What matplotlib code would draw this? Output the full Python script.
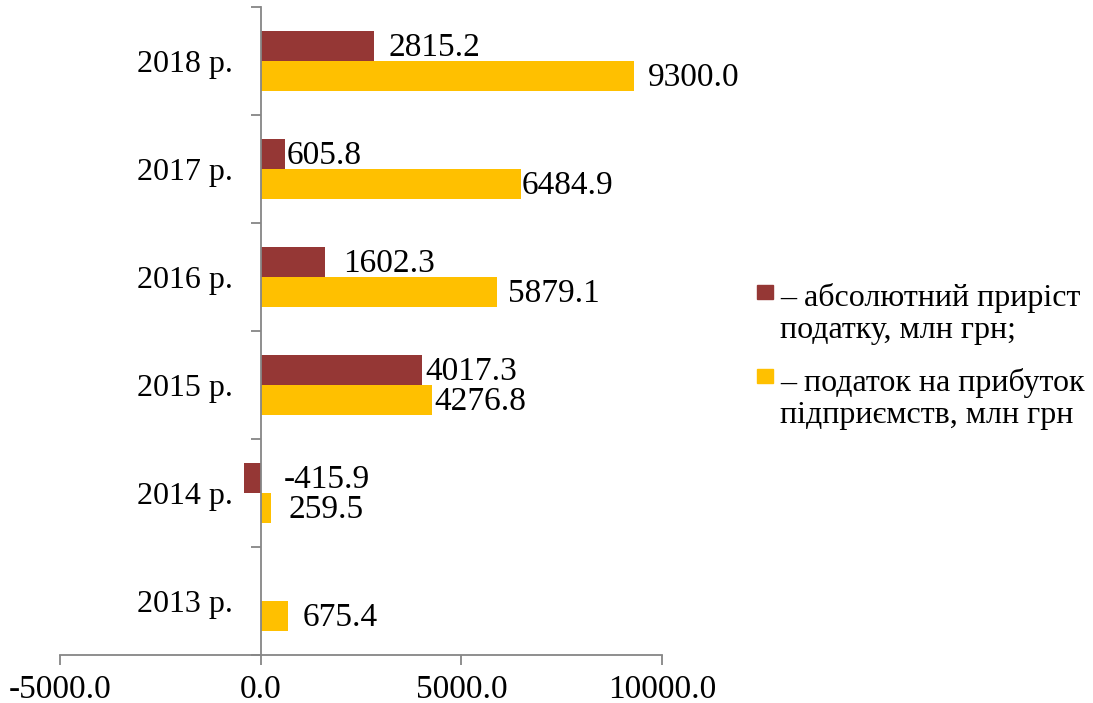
import numpy as np
import matplotlib
matplotlib.use("Agg")
import matplotlib.pyplot as plt
from matplotlib.patches import Rectangle
from matplotlib.ticker import FixedLocator, FormatStrFormatter

# -------------------------------------------------------------------
# DATA
# -------------------------------------------------------------------
years = ["2013 р.", "2014 р.", "2015 р.", "2016 р.", "2017 р.", "2018 р."]
tax = [675.4, 259.5, 4276.8, 5879.1, 6484.9, 9300.0]          # податок на прибуток
growth = [np.nan, -415.9, 4017.3, 1602.3, 605.8, 2815.2]       # абсолютний приріст

legend_labels = ["– абсолютний приріст\nподатку, млн грн;",
                 "– податок на прибуток\nпідприємств, млн грн"]

# label nudges (pixels from bar end), just to sit like the original
tax_nudge = [15, 17, 2, 11, 1, 14]
growth_nudge = [0, 23, 3, 18, 2, 15]

RED = "#953735"
YELLOW = "#FFC000"
AXIS = "#868686"

plt.rcParams["font.family"] = ["Liberation Serif", "DejaVu Serif"]
plt.rcParams["axes.unicode_minus"] = False
FS = 24       # data labels, x ticks
FS_CAT = 23   # year labels, legend

fig = plt.figure(figsize=(10.93, 7.03), dpi=100)
ax = fig.add_axes([60 / 1093, 48 / 703, 602 / 1093, 648 / 703])

y = np.arange(len(years))
h = 0.28
ax.barh(y + h / 2, growth, height=h, color=RED)
ax.barh(y - h / 2, tax, height=h, color=YELLOW)

# data labels
px = 72 / 100  # points per pixel
for i in range(len(years)):
    ax.annotate(f"{tax[i]:.1f}", (max(tax[i], 0), y[i] - h / 2),
                xytext=(tax_nudge[i] * px, -2 * px), textcoords="offset points",
                va="center", ha="left", fontsize=FS)
    if not np.isnan(growth[i]):
        ax.annotate(f"{growth[i]:.1f}", (max(growth[i], 0), y[i] + h / 2),
                    xytext=(growth_nudge[i] * px, -2 * px), textcoords="offset points",
                    va="center", ha="left", fontsize=FS)

ax.set_xlim(-5000, 10000)
ax.set_ylim(-0.5, len(years) - 0.5)

ax.xaxis.set_major_locator(FixedLocator([-5000, 0, 5000, 10000]))
ax.xaxis.set_major_formatter(FormatStrFormatter("%.1f"))
ax.tick_params(axis="x", direction="out", length=7, width=1.3, color=AXIS,
               labelsize=FS, pad=7)

ax.set_yticks(y)
ax.set_yticklabels(years)
ax.yaxis.set_minor_locator(FixedLocator(np.arange(-0.5, len(years), 1.0)))
ax.tick_params(axis="y", which="major", length=0, labelsize=FS_CAT, pad=20)
ax.tick_params(axis="y", which="minor", direction="out", length=7, width=1.3,
               color=AXIS)

ax.spines["left"].set_position(("data", 0))
for s in ["left", "bottom"]:
    ax.spines[s].set_color(AXIS)
    ax.spines[s].set_linewidth(1.3)
ax.spines["top"].set_visible(False)
ax.spines["right"].set_visible(False)

# legend drawn by hand so the square sits on the first line
W, H = 1093, 703
for (color, label, my, ty) in [(RED, legend_labels[0], 292, 314),
                               (YELLOW, legend_labels[1], 376, 399)]:
    fig.patches.append(Rectangle(((757) / W, 1 - (my + 7) / H), 16 / W, 14 / H,
                                 transform=fig.transFigure, color=color))
    fig.text(780 / W, 1 - ty / H, label, fontsize=FS_CAT, va="center", ha="left",
             linespacing=1.1)

fig.savefig("out.png", dpi=100)
